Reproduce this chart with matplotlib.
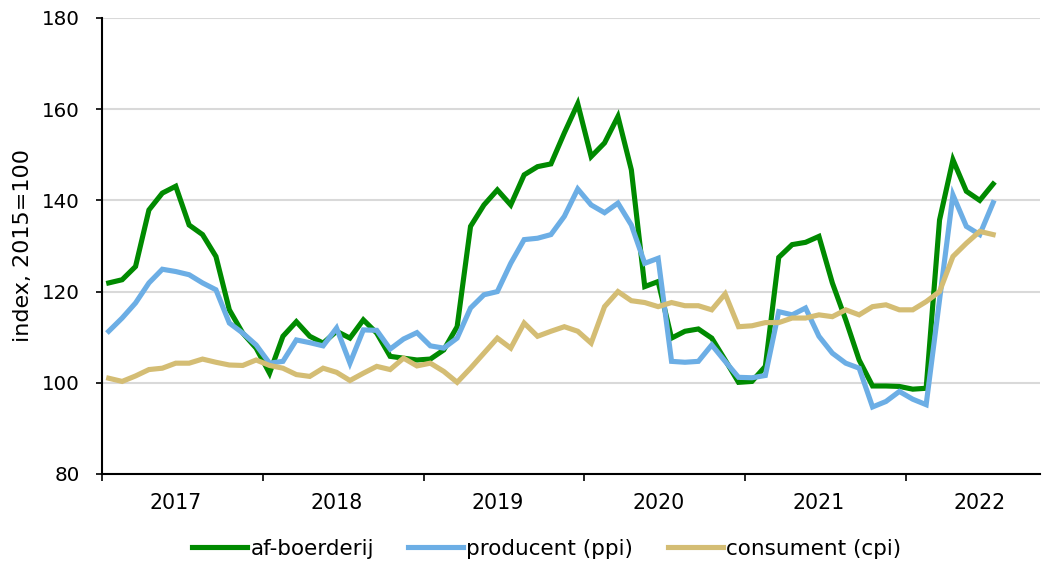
import matplotlib
matplotlib.use('Agg')
import matplotlib.pyplot as plt
import matplotlib.ticker as mticker
import numpy as np

# ── Data: monthly index (2015=100), Jan 2017 .. Jul 2022 ──────────────────────
years = ['2017', '2018', '2019', '2020', '2021', '2022']
n_slots = 70  # category axis runs Jan 2017 .. Oct 2022

af_boerderij = [
    121.9, 122.6, 125.5, 137.9, 141.6, 143.1, 134.6, 132.5, 127.7, 116.0, 110.9, 107.6,
    102.1, 110.2, 113.4, 110.2, 108.7, 111.3, 109.8, 113.8, 110.9, 105.8, 105.4, 105.0,
    105.2, 107.2, 112.3, 134.3, 139.0, 142.3, 139.0, 145.6, 147.4, 148.0, 154.8, 161.2,
    149.6, 152.6, 158.4, 146.7, 121.1, 122.2, 109.8, 111.3, 111.8, 109.8, 105.0, 100.1,
    100.3, 103.6, 127.5, 130.3, 130.8, 132.1, 121.9, 113.8, 105.0, 99.3, 99.3, 99.2,
    98.6, 98.8, 135.7, 148.9, 142.0, 140.0, 143.6,
]
producent = [
    111.3, 114.2, 117.5, 121.9, 124.9, 124.4, 123.7, 121.9, 120.4, 113.1, 110.9, 108.3,
    104.3, 104.7, 109.4, 108.8, 108.1, 112.0, 104.3, 111.6, 111.5, 107.4, 109.6, 111.0,
    108.1, 107.6, 109.8, 116.4, 119.3, 120.0, 126.2, 131.4, 131.7, 132.5, 136.5, 142.5,
    139.0, 137.3, 139.4, 134.6, 126.2, 127.3, 104.7, 104.5, 104.7, 108.3, 104.7, 101.2,
    101.1, 101.6, 115.6, 114.9, 116.4, 110.2, 106.5, 104.3, 103.2, 94.7, 95.9, 98.1,
    96.4, 95.2, 118.2, 141.2, 134.3, 132.5, 139.5,
]
consument = [
    101.0, 100.3, 101.5, 102.9, 103.2, 104.3, 104.3, 105.2, 104.5, 103.9, 103.8, 105.0,
    103.8, 103.2, 101.8, 101.4, 103.2, 102.3, 100.5, 102.1, 103.6, 102.9, 105.4, 103.7,
    104.3, 102.5, 100.1, 103.2, 106.5, 109.8, 107.6, 113.1, 110.2, 111.3, 112.3, 111.3,
    108.7, 116.7, 120.0, 118.0, 117.6, 116.7, 117.6, 116.9, 116.9, 116.0, 119.5, 112.3,
    112.5, 113.2, 113.2, 114.2, 114.2, 114.9, 114.5, 116.0, 114.9, 116.7, 117.1, 116.0,
    116.0, 117.8, 120.0, 127.7, 130.6, 133.2, 132.5,
]

GREEN = '#008A00'
BLUE = '#6CAEE5'
TAN = '#D4BD74'
GRID_C = '#D9D9D9'

plt.rcParams['font.family'] = ['DejaVu Sans']

fig = plt.figure(figsize=(10.53, 5.64), dpi=100)
ax = fig.add_axes([0.0969, 0.1596, 0.8908, 0.8085])

x = np.arange(len(af_boerderij))
ax.plot(x, af_boerderij, color=GREEN, lw=3.7, label='af-boerderij', zorder=3,
        solid_joinstyle='miter')
ax.plot(x, producent, color=BLUE, lw=3.7, label='producent (ppi)', zorder=3,
        solid_joinstyle='miter')
ax.plot(x, consument, color=TAN, lw=3.7, label='consument (cpi)', zorder=3,
        solid_joinstyle='miter')

# y axis
ax.set_ylim(80, 180)
ax.set_yticks([80, 100, 120, 140, 160, 180])
ax.yaxis.grid(True, color=GRID_C, lw=1.5, zorder=0)
ax.set_axisbelow(True)
ax.tick_params(axis='y', labelsize=14.3, length=4, width=1.2, pad=12)
ax.set_ylabel('index, 2015=100', fontsize=16, labelpad=6)

# x axis: category axis with year ticks every 12 months
ax.set_xlim(-0.5, n_slots - 0.5)
ax.set_xticks(np.arange(len(years)) * 12 - 0.5)
ax.set_xticklabels([])
ax.xaxis.set_minor_locator(mticker.FixedLocator(np.arange(len(years)) * 12 + 5))
ax.xaxis.set_minor_formatter(mticker.FixedFormatter(years))
ax.tick_params(axis='x', which='major', length=5, width=1.2)
ax.tick_params(axis='x', which='minor', length=0, labelsize=14.8, pad=14)

for s in ['top', 'right']:
    ax.spines[s].set_visible(False)
for s in ['left', 'bottom']:
    ax.spines[s].set_color('black')
    ax.spines[s].set_linewidth(1.5)

fig.legend(loc='lower center', bbox_to_anchor=(0.519, -0.025), ncol=3,
           frameon=False, fontsize=15.5, handlelength=2.55, handletextpad=0.15,
           columnspacing=1.6)

fig.savefig('out.png', dpi=100, facecolor='white')
